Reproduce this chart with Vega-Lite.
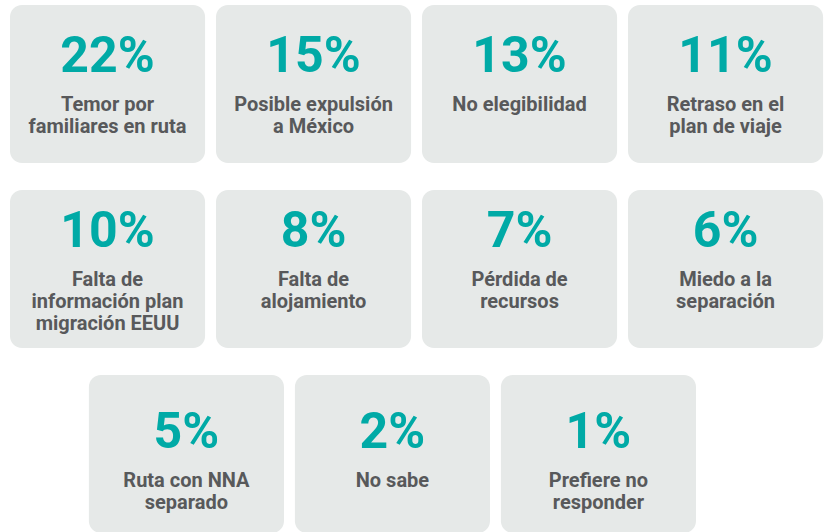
{
  "$schema": "https://vega.github.io/schema/vega-lite/v6.json",
  "width": 827,
  "height": 532,
  "autosize": {"type": "none"},
  "padding": 0,
  "background": "white",
  "config": {"view": {"stroke": null}},
  "data": {
    "values": [
      {"row": 0, "col": 0, "pct": "22%", "label": "Temor por\nfamiliares en ruta"},
      {"row": 0, "col": 1, "pct": "15%", "label": "Posible expulsión\na México"},
      {"row": 0, "col": 2, "pct": "13%", "label": "No elegibilidad"},
      {"row": 0, "col": 3, "pct": "11%", "label": "Retraso en el\nplan de viaje"},
      {"row": 1, "col": 0, "pct": "10%", "label": "Falta de\ninformación plan\nmigración EEUU"},
      {"row": 1, "col": 1, "pct": "8%", "label": "Falta de\nalojamiento"},
      {"row": 1, "col": 2, "pct": "7%", "label": "Pérdida de\nrecursos"},
      {"row": 1, "col": 3, "pct": "6%", "label": "Miedo a la\nseparación"},
      {"row": 2, "col": 0, "pct": "5%", "label": "Ruta con NNA\nseparado"},
      {"row": 2, "col": 1, "pct": "2%", "label": "No sabe"},
      {"row": 2, "col": 2, "pct": "1%", "label": "Prefiere no\nresponder"}
    ]
  },
  "transform": [
    {"calculate": "datum.col + (datum.row == 2 ? 0.383 : 0)", "as": "x0"},
    {"calculate": "datum.x0 + 0.947", "as": "x1"},
    {"calculate": "datum.x0 + 0.4735", "as": "xc"},
    {"calculate": "datum.row", "as": "y0"},
    {"calculate": "datum.row + 0.854", "as": "y1"},
    {"calculate": "datum.row + (datum.row == 1 ? 0.308 : datum.row == 2 ? 0.395 : 0.362)", "as": "ypct"},
    {"calculate": "datum.ypct + 0.211", "as": "ylab"}
  ],
  "encoding": {},
  "layer": [
    {
      "mark": {"type": "rect", "color": "#e6e9e8", "cornerRadius": 12},
      "encoding": {
        "x": {"field": "x0", "type": "quantitative", "scale": {"domain": [-0.0485, 3.966], "zero": false, "nice": false}, "axis": null},
        "x2": {"field": "x1"},
        "y": {"field": "y0", "type": "quantitative", "scale": {"domain": [-0.027, 2.849], "reverse": true, "zero": false, "nice": false}, "axis": null},
        "y2": {"field": "y1"}
      }
    },
    {
      "mark": {"type": "text", "color": "#00aaa6", "font": "Roboto", "fontWeight": "bold", "fontSize": 50, "letterSpacing": -3.5, "align": "center", "baseline": "alphabetic"},
      "encoding": {
        "x": {"field": "xc", "type": "quantitative"},
        "y": {"field": "ypct", "type": "quantitative"},
        "text": {"field": "pct"}
      }
    },
    {
      "mark": {"type": "text", "color": "#58595b", "font": "Roboto", "fontWeight": "bold", "fontSize": 20, "lineHeight": 22, "lineBreak": "\n", "align": "center", "baseline": "alphabetic"},
      "encoding": {
        "x": {"field": "xc", "type": "quantitative"},
        "y": {"field": "ylab", "type": "quantitative"},
        "text": {"field": "label"}
      }
    }
  ]
}
